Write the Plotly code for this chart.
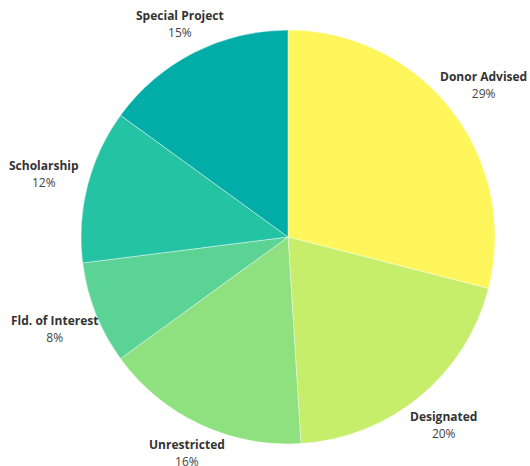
import math
import plotly.graph_objects as go

labels = ["Donor Advised", "Designated", "Unrestricted", "Fld. of Interest", "Scholarship", "Special Project"]
values = [29, 20, 16, 8, 12, 15]
colors = ["#FEF65B", "#C6EE6A", "#8FE07E", "#5AD394", "#23C3A3", "#03ADA7"]

W, H = 530, 466
ML, MR, MT, MB = 81, 35, 30, 22
pw, ph = W - ML - MR, H - MT - MB

fig = go.Figure(go.Pie(
    labels=labels,
    values=values,
    sort=False,
    direction="clockwise",
    rotation=0,
    automargin=False,
    marker=dict(colors=colors, line=dict(width=0.6, color="rgba(255,255,255,0.7)")),
    textinfo="none",
    showlegend=False,
    hoverinfo="label+percent",
))

total = sum(values)
radius = min(pw, ph) / 2
cum = 0
annotations = []
for lab, v in zip(labels, values):
    mid = (cum + v / 2) / total * 2 * math.pi
    cum += v
    R = radius * (1.10 + 0.12 * abs(math.sin(mid)))
    xp = 0.5 + R * math.sin(mid) / pw
    yp = 0.5 + R * math.cos(mid) / ph
    pct = round(v / total * 100)
    annotations.append(dict(
        x=xp, y=yp, xref="paper", yref="paper",
        xanchor="center", yanchor="middle",
        showarrow=False,
        text=(f"<span style='font-size:12px'><b>{lab}</b></span><br>"
              f"<span style='font-size:12px;color:#444444'>{pct}%</span>"),
        font=dict(family="Open Sans", size=13, color="#333333"),
        align="center",
    ))

fig.update_layout(
    width=W, height=H,
    margin=dict(l=ML, r=MR, t=MT, b=MB, autoexpand=False),
    paper_bgcolor="white",
    plot_bgcolor="white",
    font=dict(family="Open Sans"),
    annotations=annotations,
)

fig.write_html(
    "out.html",
    config={"displayModeBar": False},
    post_script="document.body.style.margin='0';document.body.style.overflow='hidden';",
)
